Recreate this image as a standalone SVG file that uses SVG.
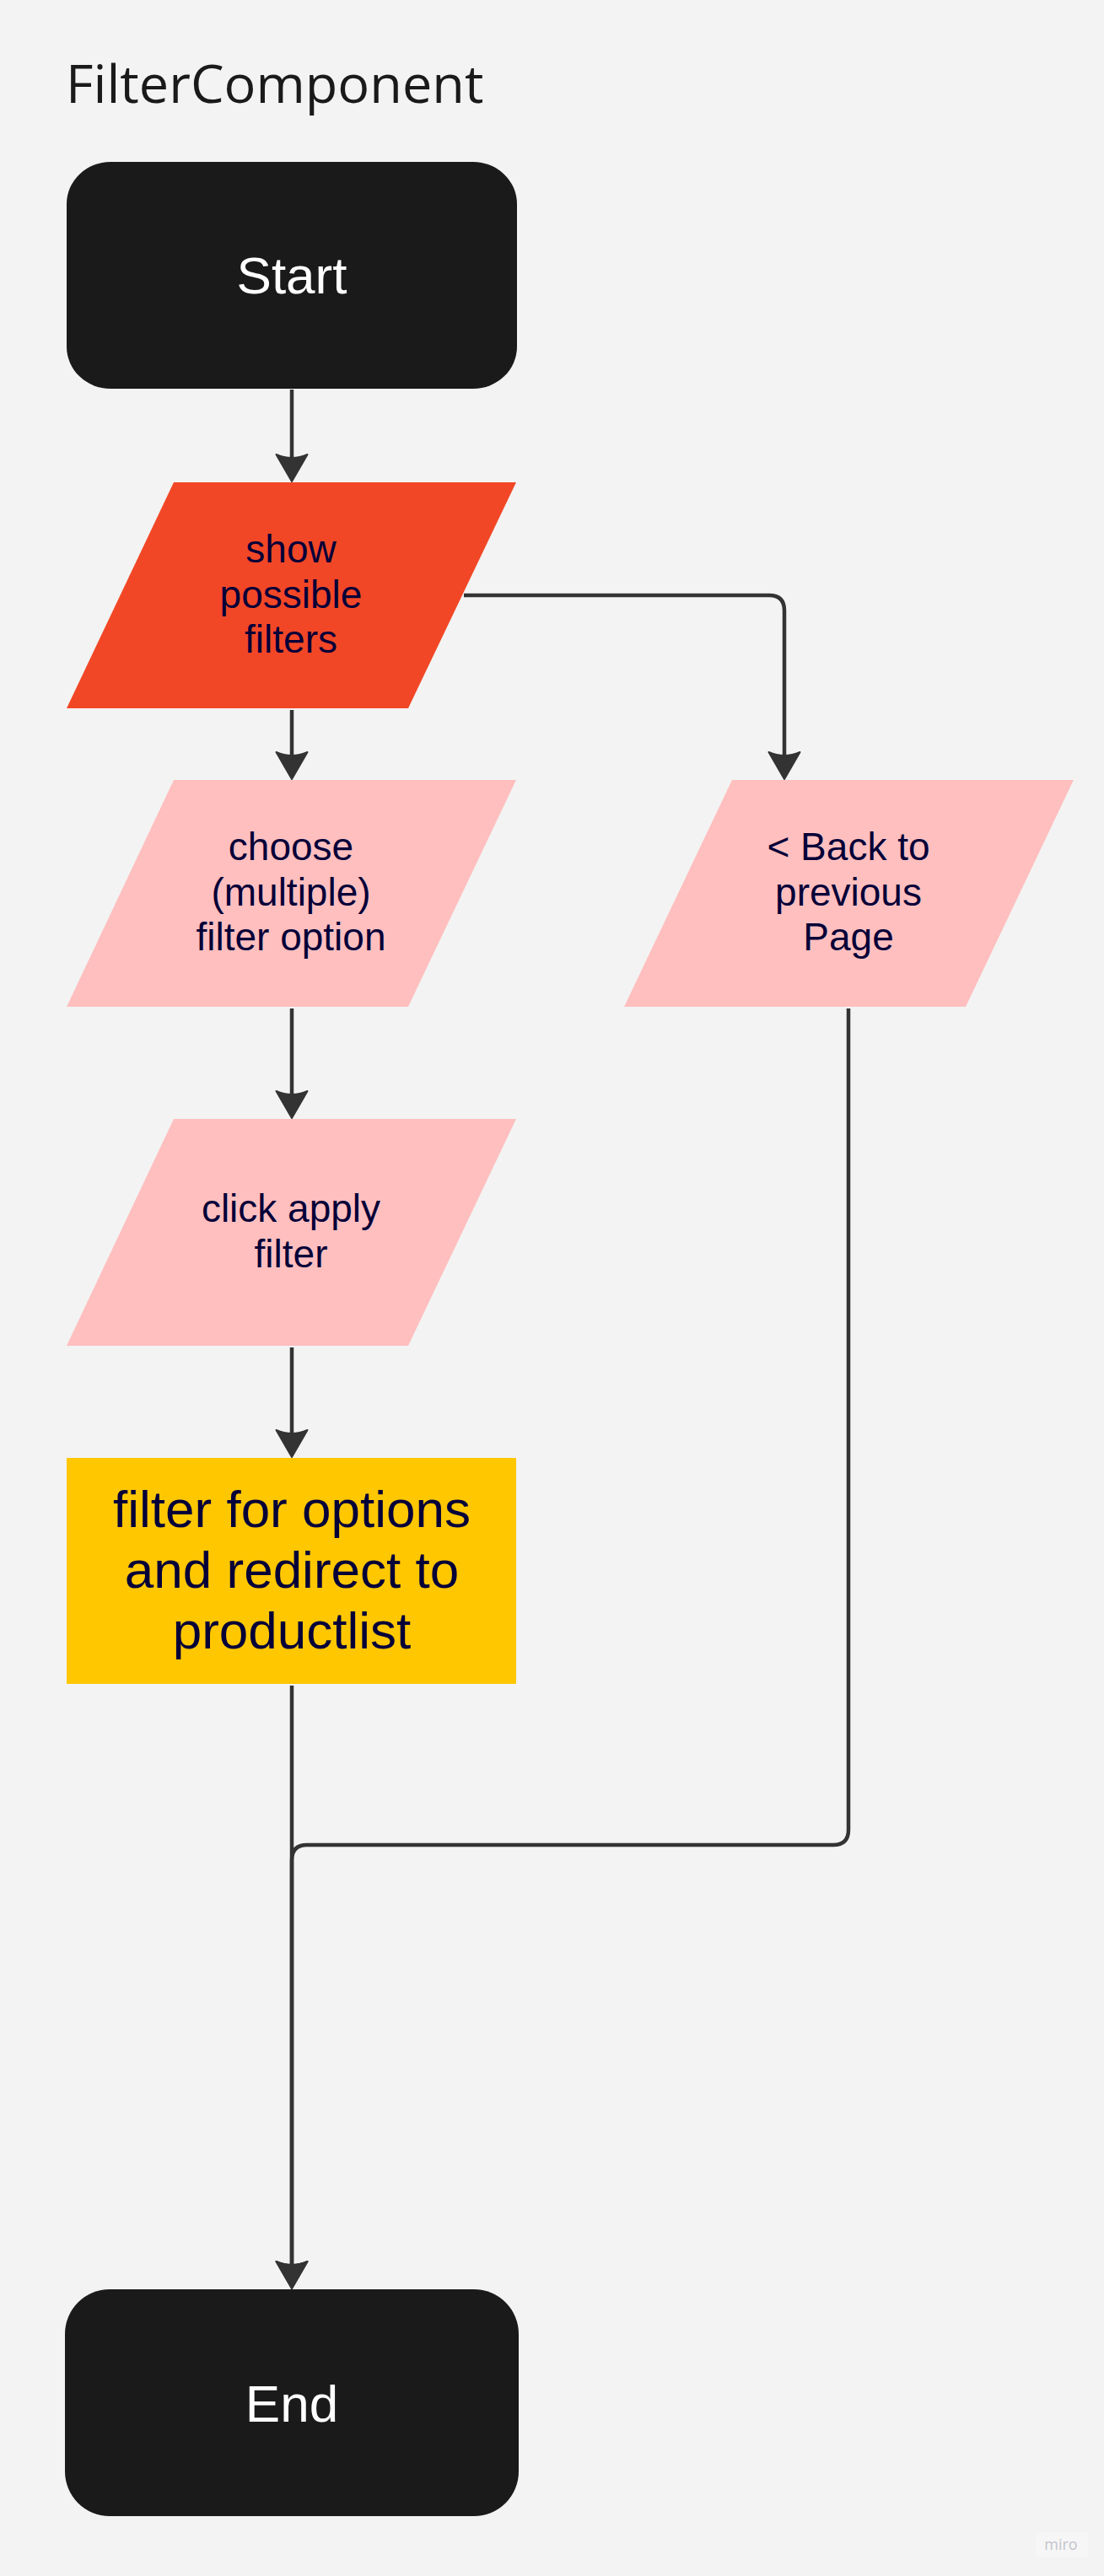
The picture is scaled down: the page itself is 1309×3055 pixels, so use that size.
<svg xmlns="http://www.w3.org/2000/svg" width="1309" height="3055" viewBox="0 0 1309 3055">
<style>
.lbl{font-family:"Liberation Sans",Arial,sans-serif;fill:#050038;text-anchor:middle;font-size:46px}
.big{font-size:62px}
.term{font-family:"Liberation Sans",Arial,sans-serif;fill:#ffffff;text-anchor:middle;font-size:62px}
.conn{fill:none;stroke:#333333;stroke-width:4.5;stroke-linejoin:round}
.title{font-family:"Open Sans","Noto Sans",sans-serif;font-size:63px;fill:#1a1a1a}
</style>
<defs>
<marker id="arr" markerUnits="userSpaceOnUse" markerWidth="44" markerHeight="44" viewBox="-30 -22 44 44" refX="0" refY="0" orient="auto" overflow="visible">
<path d="M6,0 L-26,-18.5 Q-18,0 -26,18.5 Z" fill="#333333" stroke="#333333" stroke-width="2" stroke-linejoin="round"/>
</marker>
</defs>
<rect x="0" y="0" width="1309" height="3055" fill="#f3f3f3"/>
<text class="title" x="78" y="122">FilterComponent</text>

<g id="start">
<rect x="79" y="192" width="534" height="269" rx="52" ry="50" fill="#1a1a1a"/>
<text class="term" x="346" y="348">Start</text>
</g>

<g id="show-filters">
<polygon points="206,572 612,572 484,840 79,840" fill="#f24726"/>
<text class="lbl" x="345" y="667">show</text>
<text class="lbl" x="345" y="721">possible</text>
<text class="lbl" x="345" y="774">filters</text>
</g>

<g id="choose-option">
<polygon points="206,925 612,925 484,1194 79,1194" fill="#ffbfbf"/>
<text class="lbl" x="345" y="1020">choose</text>
<text class="lbl" x="345" y="1074">(multiple)</text>
<text class="lbl" x="345" y="1127">filter option</text>
</g>

<g id="back-to-previous">
<polygon points="868,925 1273,925 1145,1194 740,1194" fill="#ffbfbf"/>
<text class="lbl" x="1006" y="1020">&lt; Back to</text>
<text class="lbl" x="1006" y="1074">previous</text>
<text class="lbl" x="1006" y="1127">Page</text>
</g>

<g id="click-apply">
<polygon points="206,1327 612,1327 484,1596 79,1596" fill="#ffbfbf"/>
<text class="lbl" x="345" y="1449">click apply</text>
<text class="lbl" x="345" y="1503">filter</text>
</g>

<g id="filter-redirect">
<rect x="79" y="1729" width="533" height="268" fill="#ffc700"/>
<text class="lbl big" x="346" y="1811">filter for options</text>
<text class="lbl big" x="346" y="1883">and redirect to</text>
<text class="lbl big" x="346" y="1955">productlist</text>
</g>

<g id="end">
<rect x="77" y="2715" width="538" height="269" rx="53" ry="53" fill="#1a1a1a"/>
<text class="term" x="346" y="2872">End</text>
</g>

<g id="connectors">
<path class="conn" d="M346,462 V565" marker-end="url(#arr)"/>
<path class="conn" d="M346,842 V918" marker-end="url(#arr)"/>
<path class="conn" d="M550,706 H912 Q930,706 930,724 V918" marker-end="url(#arr)"/>
<path class="conn" d="M346,1196 V1320" marker-end="url(#arr)"/>
<path class="conn" d="M346,1598 V1722" marker-end="url(#arr)"/>
<path class="conn" d="M346,1999 V2708" marker-end="url(#arr)"/>
<path class="conn" d="M1006,1196 V2170 Q1006,2188 988,2188 H364 Q346,2188 346,2206 V2708" marker-end="url(#arr)"/>
</g>

<g id="watermark">
<rect x="1228" y="3003" width="62" height="30" fill="#f6f6f6"/>
<text x="1258" y="3024" font-family="'Open Sans','Noto Sans',sans-serif" font-size="18" fill="#c4c4cc" text-anchor="middle">miro</text>
</g>
</svg>
